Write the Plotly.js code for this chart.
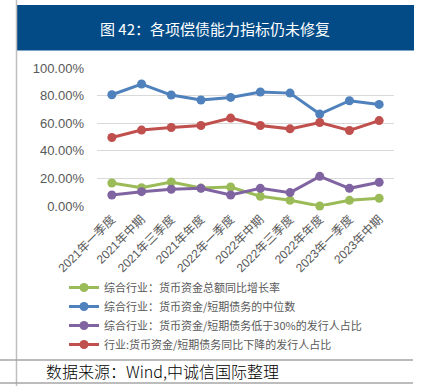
<!DOCTYPE html>
<html><head><meta charset="utf-8">
<script src="https://cdn.plot.ly/plotly-3.0.1.min.js"></script>
<style>html,body{margin:0;padding:0;background:#fff;}#c{width:431px;height:386px;}</style>
</head><body><div id="c"></div>
<script>
const categories = ["2021年一季度","2021年中期","2021年三季度","2021年年度","2022年一季度","2022年中期","2022年三季度","2022年年度","2023年一季度","2023年中期"];
const growthRate = [0.167,0.133,0.174,0.130,0.138,0.070,0.041,0.000,0.041,0.056];
const medianRatio = [0.806,0.884,0.804,0.768,0.787,0.826,0.818,0.666,0.763,0.736];
const below30Share = [0.080,0.104,0.121,0.128,0.080,0.128,0.097,0.215,0.128,0.172];
const declineShare = [0.496,0.550,0.569,0.583,0.637,0.583,0.559,0.605,0.547,0.619];
const seriesNames = ["综合行业：货币资金总额同比增长率","综合行业：货币资金/短期债务的中位数","综合行业：货币资金/短期债务低于30%的发行人占比","行业:货币资金/短期债务同比下降的发行人占比"];
const yTicks = [0,0.2,0.4,0.6,0.8,1.0];

const W=431,H=386,L=97,R=37,T=68,B=180;
const pw=W-L-R, ph=H-T-B;
const px=x=>(x-L)/pw, py=y=>(H-B-y)/ph;

const colors=["#9bbb59","#4f81bd","#8064a2","#c0504d"];
const vals=[growthRate,medianRatio,below30Share,declineShare];
const traces=vals.map((v,i)=>({
  x:categories,y:v,name:seriesNames[i],type:'scatter',mode:'lines+markers',
  line:{color:colors[i],width:3},marker:{color:colors[i],size:9},cliponaxis:false
}));

const layout={
  width:W,height:H,margin:{l:L,r:R,t:T,b:B},
  paper_bgcolor:'#fff',plot_bgcolor:'#fff',
  font:{family:'"Liberation Sans", Arial, "Noto Sans CJK SC", sans-serif',color:'#595959'},
  xaxis:{type:'category',tickangle:-45,tickfont:{size:12,color:'#595959',family:'"Liberation Sans","Noto Sans CJK SC",sans-serif'},
    showgrid:false,showline:false,zeroline:false,ticks:'',range:[-0.5,categories.length-0.5],ticklabelstandoff:3},
  yaxis:{range:[0,1],tickvals:yTicks,tickformat:'.2%',tickfont:{size:13,color:'#595959'},
    gridcolor:'#d9d9d9',gridwidth:1,zeroline:false,showline:false,ticks:'',ticklabelstandoff:12},
  showlegend:true,
  legend:{x:px(64),y:py(273),xanchor:'left',yanchor:'top',orientation:'v',
    font:{size:11,color:'#595959',family:'"Noto Sans CJK SC","Liberation Sans",sans-serif'},
    itemwidth:30,tracegroupgap:0,bgcolor:'rgba(0,0,0,0)'},
  shapes:[
    {type:'rect',xref:'paper',yref:'paper',x0:px(16),x1:px(414),y0:py(50.5),y1:py(5),fillcolor:'#024b87',line:{width:0},layer:'below'},
    {type:'line',xref:'paper',yref:'paper',x0:px(16.5),x1:px(16.5),y0:py(0),y1:py(386),line:{color:'#bfbfbf',width:1.5}},
    {type:'line',xref:'paper',yref:'paper',x0:px(0),x1:px(413),y0:py(360),y1:py(360),line:{color:'#a6a6a6',width:1.5}},
    {type:'line',xref:'paper',yref:'paper',x0:px(0),x1:px(413),y0:py(383),y1:py(383),line:{color:'#a6a6a6',width:1.5}}
  ],
  annotations:[
    {xref:'paper',yref:'paper',x:px(215),y:py(28),xanchor:'center',yanchor:'middle',showarrow:false,
      text:'图 42：各项偿债能力指标仍未修复',font:{size:15,color:'#ffffff',family:'"Noto Sans CJK SC",sans-serif'}},
    {xref:'paper',yref:'paper',x:px(44),y:py(371),xanchor:'left',yanchor:'middle',showarrow:false,
      text:'数据来源：Wind,中诚信国际整理',font:{size:16,color:'#000000',family:'"Noto Sans CJK SC",sans-serif',weight:300}}
  ]
};
Plotly.newPlot('c',traces,layout,{displayModeBar:false,staticPlot:true});
</script></body></html>
